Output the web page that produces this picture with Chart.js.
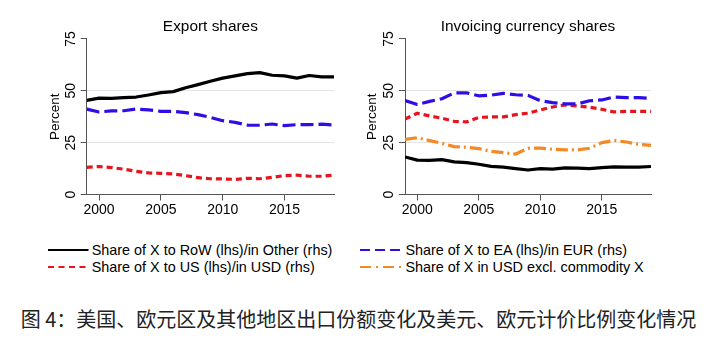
<!DOCTYPE html>
<html><head><meta charset="utf-8">
<script src="https://cdn.jsdelivr.net/npm/chart.js@4/dist/chart.umd.min.js"></script>
<style>
html,body{margin:0;padding:0;background:#fff;}
body{width:717px;height:337px;position:relative;overflow:hidden;font-family:"Liberation Sans",Arial,sans-serif;}
canvas{position:absolute;top:0;}
#c1{left:0;}
#c2{left:358px;}
.lt{position:absolute;font-size:14.4px;line-height:14.4px;color:#000;white-space:nowrap;}
svg.ls{position:absolute;overflow:visible;}
#cap{position:absolute;left:0;top:307px;width:717px;text-align:center;font-family:"Noto Sans CJK SC",sans-serif;font-weight:400;font-size:20px;line-height:24px;color:#222;white-space:nowrap;}
</style></head>
<body>
<canvas id="c1" width="358" height="230"></canvas>
<canvas id="c2" width="359" height="230"></canvas>

<svg class="ls" style="left:48px;top:250px" width="41" height="1"><line x1="0" y1="0" x2="40.5" y2="0" stroke="#000" stroke-width="2"/></svg>
<div class="lt" style="left:91.7px;top:243px">Share of X to RoW (lhs)/in Other (rhs)</div>
<svg class="ls" style="left:48px;top:267px" width="41" height="1"><line x1="0" y1="0" x2="40.5" y2="0" stroke="#e8141c" stroke-width="2" stroke-dasharray="6,4.5"/></svg>
<div class="lt" style="left:91.7px;top:260px">Share of X to US (lhs)/in USD (rhs)</div>
<svg class="ls" style="left:360px;top:250px" width="42" height="1"><line x1="0" y1="0" x2="41.5" y2="0" stroke="#2d0fe6" stroke-width="2" stroke-dasharray="10,5"/></svg>
<div class="lt" style="left:405.4px;top:243px">Share of X to EA (lhs)/in EUR (rhs)</div>
<svg class="ls" style="left:360px;top:267px" width="42" height="1"><line x1="0" y1="0" x2="41.5" y2="0" stroke="#f48a24" stroke-width="2" stroke-dasharray="11,5,2,5"/></svg>
<div class="lt" style="left:405.4px;top:260px">Share of X in USD excl. commodity X</div>

<div id="cap">图 4：美国、欧元区及其他地区出口份额变化及美元、欧元计价比例变化情况</div>

<script>
// ---- data ----
const years = [1999,2000,2001,2002,2003,2004,2005,2006,2007,2008,2009,2010,2011,2012,2013,2014,2015,2016,2017,2018,2019];
const xTicks = [2000,2005,2010,2015];
const yTicks = [0,25,50,75];

// Export shares (lhs)
const exportRoW = [45.4,46.5,46.4,46.7,47.0,48.0,49.1,49.6,51.5,53.0,54.6,56.1,57.2,58.3,58.8,57.5,57.2,56.1,57.4,56.7,56.7];
const exportEA  = [41.2,39.8,40.3,40.4,41.2,40.8,40.1,40.1,39.5,38.5,37.2,35.6,34.8,33.5,33.4,34.0,33.2,33.7,33.7,33.9,33.5];
const exportUS  = [13.1,13.5,13.0,12.2,11.2,10.4,10.2,9.9,9.1,8.1,7.6,7.5,7.3,7.8,7.6,8.3,9.1,9.3,8.8,8.8,9.3];

// Invoicing currency shares (rhs)
const invOther     = [18.1,16.6,16.5,16.8,15.7,15.4,14.6,13.6,13.2,12.5,11.8,12.5,12.2,12.8,12.7,12.5,13.0,13.3,13.2,13.2,13.5];
const invEUR       = [45.3,43.4,44.9,46.2,49.0,49.0,47.6,47.9,48.8,48.1,47.8,45.2,44.3,43.7,43.7,45.2,45.6,47.0,46.7,46.7,46.4];
const invUSD       = [36.4,39.2,37.9,36.8,35.3,35.0,37.2,37.4,37.4,38.5,39.2,40.8,42.2,43.2,42.7,42.1,41.1,39.8,40.1,40.1,40.1];
const invUSDexcl   = [26.6,27.4,26.0,24.7,23.1,22.8,22.1,20.8,20.2,19.5,22.3,22.4,21.8,21.5,21.5,22.3,25.0,26.1,25.3,24.2,23.7];

const titles = ['Export shares', 'Invoicing currency shares'];
const yTitle = 'Percent';

// ---- styles ----
const FONT = '"Liberation Sans", Arial, sans-serif';
const C_BLACK = '#000000', C_BLUE = '#2d0fe6', C_RED = '#e8141c', C_ORANGE = '#f48a24';

function pts(arr){ return years.map((y,i)=>({x:y, y:arr[i]})); }
function ds(arr, color, dash){
  return {data: pts(arr), borderColor: color, backgroundColor: color, borderWidth: 3.2,
          borderDash: dash, borderCapStyle: 'butt', borderJoinStyle: 'round',
          pointRadius: 0, tension: 0, fill: false};
}

function makeChart(id, title, datasets, yWidth, rightPad, yTitlePad){
  return new Chart(document.getElementById(id), {
    type: 'line',
    data: {datasets},
    options: {
      responsive: false, animation: false, devicePixelRatio: 1,
      layout: {padding: {left: 0, right: rightPad, top: 0, bottom: 0}},
      plugins: {
        legend: {display: false}, tooltip: {enabled: false},
        title: {display: true, text: title, fullSize: false, color: '#000',
                font: {family: FONT, size: 15.4, weight: 'normal', lineHeight: 1.2},
                padding: {top: 17.5, bottom: 3}}
      },
      scales: {
        x: {type: 'linear', min: 1999, max: 2019,
            afterBuildTicks: s => { s.ticks = xTicks.map(v => ({value: v})); },
            afterFit: s => { s.height = 35.5; },
            ticks: {color: '#000', font: {family: FONT, size: 14}, padding: 1, maxRotation: 0, minRotation: 0,
                    callback: v => String(v)},
            grid: {drawOnChartArea: false, drawTicks: true, tickLength: 6, tickColor: '#555', tickWidth: 1},
            border: {display: true, color: '#555', width: 1}},
        y: {min: 0, max: 75,
            afterBuildTicks: s => { s.ticks = yTicks.map(v => ({value: v})); },
            afterFit: s => { s.width = yWidth; },
            ticks: {color: '#000', font: {family: FONT, size: 14}, padding: 2, minRotation: 90, maxRotation: 90,
                    crossAlign: 'center', callback: v => String(v)},
            grid: {color: c => (c.tick && (c.tick.value === 25 || c.tick.value === 50)) ? '#e4e4e4' : 'rgba(0,0,0,0)',
                   lineWidth: 1, drawTicks: true, tickLength: 6, tickColor: '#555', tickWidth: 1},
            border: {display: true, color: '#555', width: 1},
            title: {display: true, text: yTitle, color: '#000', font: {family: FONT, size: 13.5, lineHeight: 1.2},
                    padding: {top: yTitlePad, bottom: 0}}}
      }
    }
  });
}

makeChart('c1', titles[0], [
  ds(exportRoW, C_BLACK, []),
  ds(exportEA, C_BLUE, [13, 5]),
  ds(exportUS, C_RED, [6, 4])
], 86.7, 358 - 334, 55 - 8.1);

makeChart('c2', titles[1], [
  ds(invOther, C_BLACK, []),
  ds(invEUR, C_BLUE, [13, 5]),
  ds(invUSD, C_RED, [6, 4]),
  ds(invUSDexcl, C_ORANGE, [12, 4, 2, 4])
], 405 - 358, 359 - (651 - 358), 372.5 - 358 - 8.1);
</script>
</body></html>
